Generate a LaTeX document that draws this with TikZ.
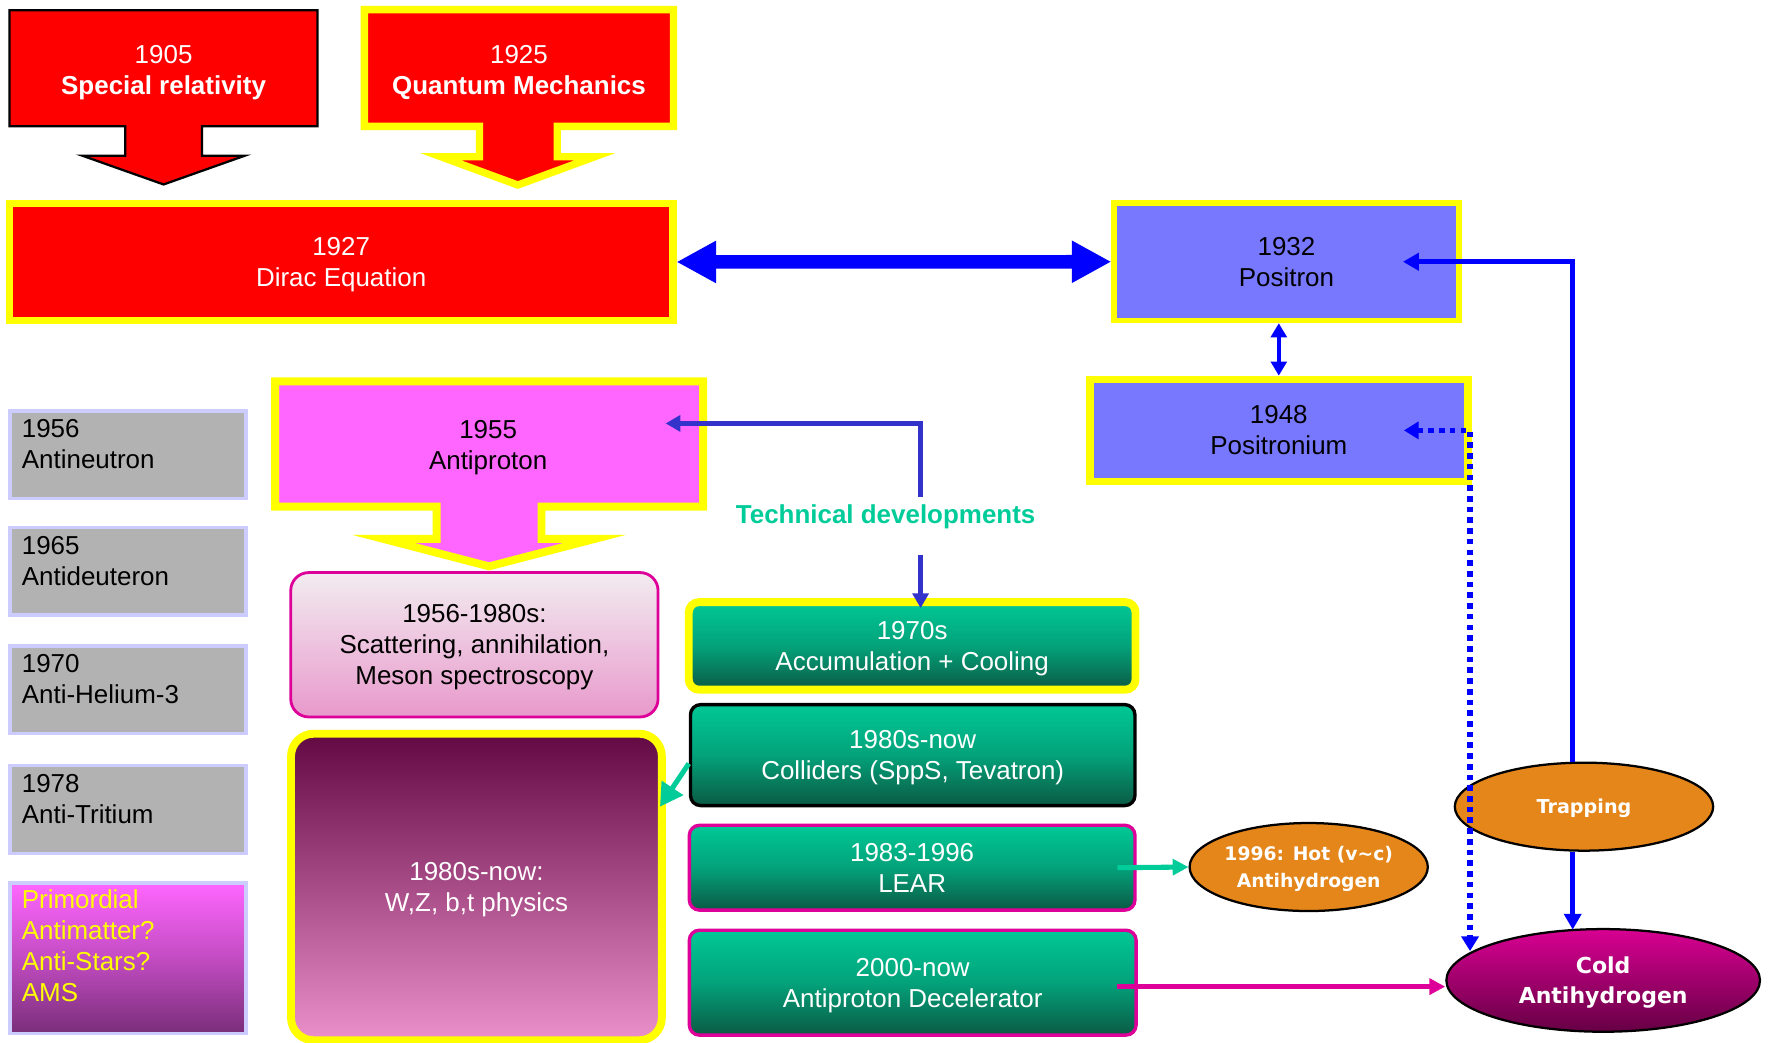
\documentclass[tikz,border=0pt]{standalone}
\usepackage{fontspec}
\setmainfont{Liberation Sans}
\newfontfamily\vfont{DejaVu Sans}
\usetikzlibrary{arrows.meta,shapes.geometric}
\definecolor{myred}{HTML}{FF0000}
\definecolor{myyellow}{HTML}{FFFF00}
\definecolor{posblue}{HTML}{7878FF}
\definecolor{appink}{HTML}{FF66FF}
\definecolor{mygray}{HTML}{B2B2B2}
\definecolor{mylav}{HTML}{CCCCFF}
\definecolor{techgreen}{HTML}{00CC99}
\definecolor{techline}{HTML}{3333CC}
\definecolor{pureblue}{HTML}{0000FF}
\definecolor{myorange}{HTML}{E5861A}
\definecolor{mymag}{HTML}{DD0099}
\definecolor{grtop}{HTML}{00C896}
\definecolor{grmid}{HTML}{03A27A}
\definecolor{grbot}{HTML}{0B5A44}
\definecolor{lptop}{HTML}{F2ECF0}
\definecolor{lpbot}{HTML}{E899CC}
\definecolor{wztop}{HTML}{620842}
\definecolor{wzbot}{HTML}{EC90CC}
\definecolor{prtop}{HTML}{FF66FF}
\definecolor{prmid}{HTML}{C24CC2}
\definecolor{prbot}{HTML}{7A2E7A}
\definecolor{cdtop}{HTML}{D80092}
\definecolor{cdbot}{HTML}{660044}
\begin{document}
\begin{tikzpicture}[x=1pt,y=-1pt,
  every node/.style={inner sep=0pt},
  T/.style={font=\fontsize{23}{27.5}\selectfont, align=center},
  gbox/.style={rectangle, fill=mygray, draw=mylav, line width=3pt, minimum width=209pt, minimum height=77.5pt},
  gtext/.style={T, align=left, anchor=north west},
  grn/.style={T, text=white, rectangle, rounded corners=9pt, top color=grtop, bottom color=grbot, middle color=grmid, minimum width=395pt},
  ell/.style={ellipse, draw=black, line width=2pt, text=white, align=center, font=\vfont\bfseries\fontsize{17}{24}\selectfont},
  bluearrow/.style={draw=pureblue, line width=4pt, -{Triangle[length=14pt,width=15pt]}},
  techarrow/.style={draw=techline, line width=4.5pt, -{Triangle[length=13pt,width=14pt]}},
  tealarrow/.style={draw=techgreen, line width=4.5pt, -{Triangle[length=14pt,width=14pt]}},
  magarrow/.style={draw=mymag, line width=4pt, -{Triangle[length=14pt,width=14pt]}},
  dotarrow/.style={draw=pureblue, line width=4.6pt, dash pattern=on 5pt off 4.5pt, {Triangle[length=13pt,width=15pt]}-{Triangle[length=13pt,width=15pt]}}
]
\fill[white] (0,0) rectangle (1568,924);
\useasboundingbox (0,0) rectangle (1568,924);

% --- top block arrows
\filldraw[fill=myred, draw=black, line width=2pt, line join=miter]
  (8.5,9) -- (281.5,9) -- (281.5,112) -- (179,112) -- (179,138) -- (217,138) -- (145,163.5)
  -- (73,138) -- (111,138) -- (111,112) -- (8.5,112) -- cycle;
\node[T, text=white] (sr) at (145,64.5) {1905\\\textbf{Special relativity}};

\filldraw[fill=myred, draw=myyellow, line width=6.5pt, line join=miter]
  (323,8.5) -- (597,8.5) -- (597,112) -- (494,112) -- (494,139) -- (527,139) -- (459,164)
  -- (391,139) -- (425,139) -- (425,112) -- (323,112) -- cycle;
\node[T, text=white] (qm) at (460,64.5) {1925\\\textbf{Quantum Mechanics}};

\node[T, rectangle, fill=myred, draw=myyellow, line width=6.5pt, text=white, text depth=-1.2pt,
  minimum width=588pt, minimum height=103.5pt] (dirac) at (302.4,232.2) {1927\\Dirac Equation};

\node[T, rectangle, fill=posblue, draw=myyellow, line width=5pt,
  minimum width=305.5pt, minimum height=104pt] (positron) at (1140.3,232) {1932\\Positron};

\node[T, rectangle, fill=posblue, draw=myyellow, line width=6.8pt, text depth=-3pt,
  minimum width=335pt, minimum height=90.3pt] (positronium) at (1133.5,381.5) {1948\\Positronium};

\draw[draw=pureblue, line width=12pt, {Triangle[length=35pt,width=35pt]}-{Triangle[length=35pt,width=35pt]}]
  (dirac.east) -- (positron.west);
\draw[draw=pureblue, line width=3pt, {Triangle[length=12.5pt,width=14pt]}-{Triangle[length=12.5pt,width=14pt]}]
  (positronium.north |- positron.south) -- (positronium.north);

% --- gray column
\node[gbox] (g1) at (113.5,403.1) {};
\node[gtext] (t1) at ([xshift=11.7pt,yshift=-8.8pt]g1.north west) {1956\\Antineutron};
\node[gbox] (g2) at (113.5,506.5) {};
\node[gtext] (t2) at ([xshift=11.7pt,yshift=-8.8pt]g2.north west) {1965\\Antideuteron};
\node[gbox] (g3) at (113.5,611.4) {};
\node[gtext] (t3) at ([xshift=11.7pt,yshift=-8.8pt]g3.north west) {1970\\Anti-Helium-3};
\node[gbox] (g4) at (113.5,717.5) {};
\node[gtext] (t4) at ([xshift=11.7pt,yshift=-8.8pt]g4.north west) {1978\\Anti-Tritium};
\node[rectangle, top color=prtop, bottom color=prbot, middle color=prmid, draw=mylav, line width=3pt,
  minimum width=209pt, minimum height=133.6pt] (g5) at (113.5,849.3) {};
\node[gtext, text=myyellow] (t5) at ([xshift=11.7pt,yshift=-7.5pt]g5.north west) {Primordial\\Antimatter?\\Anti-Stars?\\AMS};

% --- antiproton
\filldraw[fill=appink, draw=myyellow, line width=7pt, line join=miter]
  (243.8,338) -- (623.2,338) -- (623.2,449) -- (480,449) -- (480,477.7) -- (527,477.7) -- (433.5,502)
  -- (340,477.7) -- (387,477.7) -- (387,449) -- (243.8,449) -- cycle;
\node[T] (ap) at (432.7,397) {1955\\Antiproton};

\node[T, rectangle, rounded corners=16pt, top color=lptop, bottom color=lpbot, draw=mymag, line width=2.5pt,
  text depth=-7pt, minimum width=325.6pt, minimum height=128pt] (scat) at (420.5,571.5) {1956-1980s:\\Scattering, annihilation,\\Meson spectroscopy};

\node[T, text=white, rectangle, rounded corners=20pt, top color=wztop, bottom color=wzbot, draw=myyellow, line width=7pt,
  text depth=-9.5pt, minimum width=328.7pt, minimum height=271.7pt] (wz) at (422.3,786.2) {1980s-now:\\W,Z, b,t physics};

% --- green column
\node[grn, draw=myyellow, line width=7pt, text depth=-13pt, minimum width=396pt, minimum height=77.6pt] (c70) at (808.5,572.5) {1970s\\Accumulation + Cooling};
\node[grn, draw=black, line width=3pt, text depth=-9pt, minimum width=394pt, minimum height=89.5pt] (coll) at (809,669.3) {1980s-now\\Colliders (SppS, Tevatron)};
\node[grn, draw=mymag, line width=3pt, text depth=-8pt, minimum width=395pt, minimum height=75.2pt] (lear) at (808.5,769.1) {1983-1996\\LEAR};
\node[grn, draw=mymag, line width=3pt, text depth=-3pt, minimum width=396pt, minimum height=93pt] (ad) at (809,871) {2000-now\\Antiproton Decelerator};

\node[T, font=\fontsize{23}{27.5}\selectfont\bfseries, text=techgreen] (tech) at (785,458) {Technical developments};

% --- ellipses
\node[ell, fill=myorange, text depth=-3pt, minimum width=208pt, minimum height=78pt,
  font=\vfont\bfseries\fontsize{16.6}{24}\selectfont] (hot) at (1160,768.5) {1996: Hot (v\textasciitilde c)\\Antihydrogen};
\node[ell, fill=myorange, text depth=-8pt, minimum width=229pt, minimum height=78pt] (trap) at (1404,715) {Trapping};
\node[ell, top color=cdtop, bottom color=cdbot, text depth=-1pt, minimum width=278pt, minimum height=91pt,
  font=\vfont\bfseries\fontsize{19.5}{27}\selectfont] (cold) at (1421,869) {Cold\\Antihydrogen};

% --- connectors
\coordinate (aptip) at (590,375.3);
\coordinate (c70tip) at (816,539);
\draw[techarrow] ([xshift=31pt,yshift=7pt]tech.north) |- (aptip);
\draw[techarrow] ([xshift=31pt,yshift=-23pt]tech.south) -- (c70tip);

\coordinate (wzhit) at (585,715);
\draw[tealarrow, -{Triangle[length=20pt,width=22pt]}] ([yshift=-7.5pt]coll.west) -- (wzhit);
\draw[tealarrow] ([xshift=-17pt]lear.east) -- (hot.west);
\draw[magarrow] ([xshift=-18pt,yshift=-3.5pt]ad.east) -- ([yshift=-3.5pt]ad.east -| cold.west);

\draw[bluearrow] ([xshift=-10pt]trap.north) |- ([xshift=-52pt]positron.east);
\draw[bluearrow] ([xshift=-10pt]trap.south) -- ([xshift=-10pt,yshift=-1.5pt]trap.south |- cold.north);

\coordinate (coldtip) at (1303,843);
\draw[dotarrow] ([xshift=-60pt]positronium.east) -| (coldtip);
\end{tikzpicture}
\end{document}
